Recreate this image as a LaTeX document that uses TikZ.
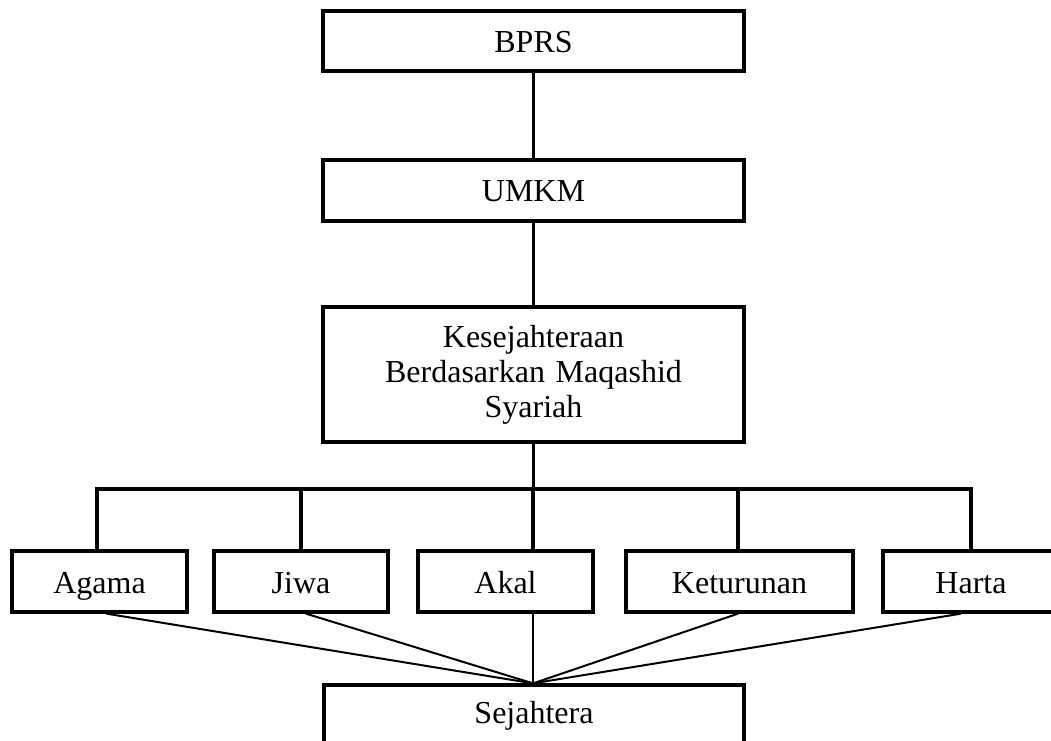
\documentclass[tikz,border=0pt]{standalone}
\usepackage{fontspec}
\setmainfont{Liberation Serif}
\begin{document}
\begin{tikzpicture}[x=1pt,y=-1pt,
  box/.style={draw=black, line width=3.3pt, fill=white, inner sep=0pt, align=center,
    font=\fontsize{32}{35}\selectfont},
  onel/.style={box, text height=22pt, text depth=0pt},
  conn/.style={line width=3.3pt, line cap=rect},
  fan/.style={line width=2pt},
  thin/.style={line width=1.3pt}]
\useasboundingbox (0,0) rectangle (1051,740);
\clip (0,0) rectangle (1051,740);
\fill[white] (0,0) rectangle (1051,740);
% top chain
\node[onel, minimum width=421pt, minimum height=60pt] (bprs) at (533.5,41) {BPRS};
\node[onel, minimum width=421pt, minimum height=61pt] (umkm) at (533.5,190.5) {UMKM};
\node[box, minimum width=421pt, minimum height=135pt, text width=400pt] (kes) at (533.5,374.5)
  {Kesejahteraan\\Berdasarkan Maqashid\\Syariah};
% aspects
\node[onel, text height=24pt, minimum width=175pt, minimum height=61pt] (agama) at (99.5,581.5) {Agama};
\node[onel, text height=24pt, minimum width=174pt, minimum height=61pt] (jiwa) at (301,581.5) {Jiwa};
\node[onel, text height=24pt, minimum width=175pt, minimum height=61pt] (akal) at (505.5,581.5) {Akal};
\node[onel, text height=24pt, minimum width=227pt, minimum height=61pt] (ketur) at (739.5,581.5) {Keturunan};
\node[onel, text height=24pt, minimum width=176pt, minimum height=61pt] (harta) at (971,581.5) {Harta};
% result
\node[onel, text height=21pt, text depth=6pt, minimum width=420pt, minimum height=61pt] (sej) at (534,715.5) {Sejahtera};
\coordinate (bar) at (533,489);
% connectors
\draw[conn] (bprs.south) -- (umkm.north);
\draw[conn] (umkm.south) -- (kes.north);
\draw[conn] (kes.south) -- (kes.south |- bar);
\draw[conn] ([xshift=-2.5pt]agama.north) -- ([xshift=-2.5pt]agama.north |- bar) -| (harta.north);
\draw[conn] (jiwa.north) -- (jiwa.north |- bar);
\draw[conn] (akal.north -| bar) -- (bar);
\draw[conn] ([xshift=-1.5pt]ketur.north) -- ([xshift=-1.5pt]ketur.north |- bar);
% fan to Sejahtera
\coordinate (meet) at (sej.north -| bar);
\draw[fan] ([xshift=7pt]agama.south) -- (meet);
\draw[fan] ([xshift=5pt]jiwa.south) -- (meet);
\draw[thin] (akal.south -| bar) -- (meet);
\draw[fan] ([xshift=-1.5pt]ketur.south) -- (meet);
\draw[fan] ([xshift=-10pt]harta.south) -- (meet);
\end{tikzpicture}
\end{document}
